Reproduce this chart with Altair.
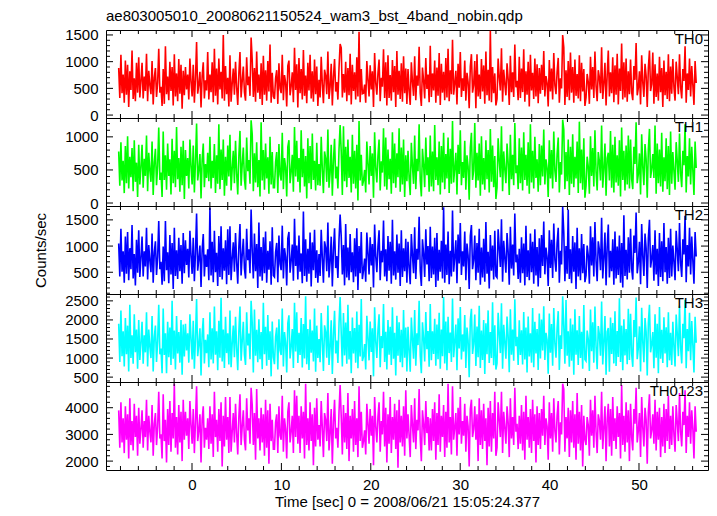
import altair as alt
import pandas as pd

# ---------------- data (hand-estimated) ----------------
T0 = -8.2
DT = 0.12447

th0 = [
    880, 320, 1130, 410, 760, 230, 1020, 380, 940, 150, 820, 470, 1210, 300, 690, 260, 980, 420, 1080, 330,
    640, 980, 310, 720, 450, 1150, 260, 830, 560, 390, 1010, 200, 700, 880, 340, 610, 1240, 420, 530, 170,
    860, 210, 1290, 390, 720, 280, 1000, 450, 900, 180, 1140, 350, 780, 260, 1050, 400, 940, 120, 830, 370,
    900, 480, 760, 290, 1060, 620, 350, 940, 230, 680, 1370, 400, 570, 810, 140, 730, 990, 310, 650, 460,
    1180, 290, 760, 430, 990, 240, 1240, 360, 870, 200, 1060, 480, 810, 310, 1500, 270, 920, 390, 700, 160,
    1120, 250, 590, 870, 380, 1000, 520, 190, 780, 1180, 330, 640, 910, 430, 270, 1080, 560, 720, 360, 1450,
    1030, 340, 880, 250, 1190, 420, 760, 300, 970, 190, 1110, 380, 840, 270, 1010, 440, 1320, 230, 790, 350,
    300, 690, 840, 210, 970, 500, 410, 1130, 280, 750, 610, 160, 920, 1020, 370, 540, 800, 240, 1260, 470,
    950, 140, 1070, 410, 860, 290, 1220, 360, 740, 220, 980, 460, 1130, 310, 820, 250, 1040, 390, 910, 170,
    660, 330, 1090, 580, 220, 850, 740, 390, 1190, 300, 530, 960, 180, 710, 1050, 440, 620, 290, 880, 1330,
    1260, 330, 770, 420, 1000, 260, 880, 370, 1150, 200, 940, 450, 800, 290, 1080, 350, 1560, 240, 860, 400,
    410, 570, 230, 1010, 670, 350, 930, 480, 820, 150, 1160, 600, 380, 780, 1040, 260, 700, 530, 1230, 320,
    990, 180, 1120, 320, 750, 270, 1030, 430, 920, 150, 1200, 380, 830, 300, 970, 250, 1100, 410, 870, 210,
    860, 450, 190, 990, 630, 360, 1100, 280, 740, 550, 1280, 410, 170, 890, 650, 310, 1070, 490, 760, 240,
    1300, 340, 780, 460, 1020, 230, 890, 360, 1160, 190, 960, 420, 810, 280, 1070, 330, 1240, 260, 840, 390,
    1410, 380, 590, 830, 200, 960, 510, 1180, 340, 690, 450, 1020, 270, 790, 620, 130, 910, 1140, 420, 560,
    1010, 130, 1140, 350, 760, 300, 1050, 440, 930, 210, 1190, 370, 850, 270, 1580, 240, 900, 410, 780, 180,
    300, 1060, 710, 460, 1250, 250, 850, 580, 370, 970, 680, 190, 1110, 430, 800, 340, 1320, 520, 640, 280,
    1090, 320, 870, 430, 1230, 250, 820, 380, 1000, 160, 1130, 460, 790, 300, 1060, 350, 950, 220, 880, 400,
    940, 470, 1200, 350, 730, 600, 160, 1030, 440, 870, 290, 1160, 560, 390, 810, 1070, 230, 690, 500, 1500,
    1270, 190, 840, 340, 1010, 280, 1170, 420, 900, 230, 1040, 360, 770, 310, 1120, 260, 980, 440, 860, 170,
    330, 770, 620, 210, 1090, 480, 900, 320, 1190, 540, 260, 840, 700, 410, 1270, 300, 590, 980, 180, 750,
    1210, 350, 800, 410, 1080, 240, 930, 380, 1150, 200, 870, 450, 1340, 290, 990, 330, 1060, 250, 820, 390,
    1040, 430, 280, 920, 660, 1350, 370, 510, 820, 200, 1120, 610, 340, 960, 730, 150, 880, 1210, 450, 580,
    1170, 210, 950, 340, 780, 270, 1090, 430, 880, 150, 1020, 370, 810, 300, 1140, 260, 910, 400, 1050, 520,
    270, 1000, 700, 390, 1140, 520, 310, 860, 640, 1290, 230, 780, 470, 1060, 350, 920, 560, 190, 1010, 600,
]

th1 = [
    780, 260, 920, 340, 640, 150, 860, 300, 1010, 220, 700, 390, 830, 180, 950, 320, 610, 90, 880, 280,
    540, 880, 230, 670, 410, 1020, 180, 760, 490, 320, 930, 120, 610, 820, 270, 560, 1140, 350, 460, 90,
    1080, 350, 720, 200, 900, 410, 660, 130, 970, 300, 790, 240, 1150, 360, 680, 170, 850, 270, 940, 60,
    800, 410, 680, 220, 960, 550, 280, 870, 160, 620, 1200, 340, 500, 740, 70, 650, 900, 240, 590, 380,
    760, 330, 1000, 220, 640, 380, 890, 150, 720, 290, 1190, 210, 810, 350, 960, 110, 700, 260, 870, 400,
    1030, 190, 520, 790, 300, 940, 450, 130, 710, 1090, 260, 580, 840, 360, 200, 990, 480, 650, 290, 1250,
    1040, 180, 750, 310, 920, 240, 650, 100, 1220, 340, 800, 200, 900, 370, 690, 140, 1000, 280, 770, 230,
    230, 620, 770, 150, 890, 430, 340, 1060, 210, 680, 540, 100, 850, 950, 300, 470, 730, 170, 1150, 400,
    940, 320, 680, 160, 1100, 390, 820, 250, 710, 70, 980, 300, 860, 210, 1050, 350, 640, 190, 910, 270,
    590, 260, 1000, 510, 150, 780, 670, 320, 1110, 230, 460, 880, 110, 640, 970, 370, 550, 220, 810, 1180,
    770, 120, 1160, 330, 850, 240, 960, 380, 700, 160, 1030, 290, 790, 220, 880, 40, 1240, 340, 730, 260,
    340, 500, 160, 930, 600, 280, 860, 410, 750, 80, 1070, 530, 310, 710, 960, 190, 630, 460, 1130, 250,
    990, 200, 810, 360, 670, 140, 1070, 300, 900, 230, 750, 390, 1130, 170, 840, 280, 960, 90, 720, 330,
    790, 380, 120, 910, 560, 290, 1020, 210, 670, 480, 1190, 340, 100, 820, 580, 240, 990, 420, 690, 170,
    1020, 250, 780, 180, 1180, 350, 690, 270, 930, 130, 860, 310, 1060, 210, 740, 370, 990, 150, 820, 290,
    1240, 310, 520, 760, 130, 880, 440, 1100, 270, 620, 380, 940, 200, 720, 550, 50, 840, 1060, 350, 490,
    1210, 230, 760, 340, 900, 110, 1010, 280, 680, 200, 950, 360, 800, 160, 1120, 320, 870, 240, 710, 60,
    230, 980, 640, 390, 1160, 180, 780, 510, 300, 900, 610, 120, 1030, 360, 730, 270, 1210, 450, 570, 210,
    980, 300, 840, 190, 1070, 350, 730, 260, 920, 140, 1190, 310, 790, 220, 1000, 380, 660, 170, 890, 270,
    870, 400, 1110, 280, 660, 530, 90, 950, 370, 800, 220, 1080, 490, 320, 740, 990, 160, 620, 430, 1260,
    1110, 210, 770, 330, 960, 120, 850, 290, 1040, 240, 700, 370, 930, 150, 1230, 300, 810, 200, 980, 80,
    260, 700, 550, 140, 1010, 410, 830, 250, 1100, 470, 190, 770, 630, 340, 1170, 230, 520, 900, 110, 680,
    760, 340, 1090, 230, 880, 160, 1000, 310, 720, 260, 950, 100, 1140, 350, 790, 190, 870, 280, 1020, 220,
    960, 360, 210, 850, 590, 1220, 300, 440, 750, 130, 1040, 540, 270, 890, 660, 80, 810, 1120, 380, 510,
    740, 380, 1170, 140, 900, 300, 810, 250, 1060, 170, 690, 330, 980, 210, 860, 120, 1080, 290, 770, 480,
    200, 920, 630, 320, 1050, 450, 240, 790, 570, 1190, 160, 710, 400, 980, 280, 850, 490, 120, 930, 530,
]

th2 = [
    1050, 420, 1330, 510, 900, 300, 1180, 470, 1270, 350, 960, 560, 1400, 380, 850, 250, 1120, 490, 1300, 410,
    780, 1180, 420, 900, 610, 1350, 360, 1020, 720, 500, 1240, 300, 880, 1090, 450, 790, 1480, 560, 700, 260,
    990, 330, 1480, 540, 880, 290, 1210, 460, 1060, 180, 1350, 430, 920, 370, 1160, 520, 1020, 280, 1250, 480,
    1110, 640, 950, 400, 1290, 820, 470, 1160, 330, 860, 1620, 530, 750, 1010, 220, 920, 1230, 420, 840, 600,
    940, 350, 1730, 440, 1080, 310, 1290, 500, 870, 240, 1190, 410, 1380, 360, 960, 530, 1110, 270, 1320, 450,
    1380, 350, 770, 1070, 510, 1250, 690, 280, 980, 1420, 440, 830, 1140, 570, 380, 1330, 730, 940, 480, 1700,
    900, 380, 1240, 520, 1040, 200, 1450, 420, 980, 340, 1170, 480, 1280, 300, 910, 550, 1090, 260, 1360, 440,
    410, 880, 1060, 310, 1200, 660, 540, 1390, 380, 960, 790, 250, 1150, 1270, 490, 720, 1030, 340, 1520, 620,
    1010, 360, 1200, 510, 860, 290, 1660, 430, 1130, 320, 950, 470, 1260, 230, 1070, 540, 1310, 390, 920, 300,
    850, 430, 1310, 780, 300, 1090, 970, 520, 1450, 400, 700, 1180, 230, 930, 1340, 580, 810, 390, 1120, 1600,
    1180, 460, 1020, 250, 1420, 400, 970, 350, 1230, 500, 880, 310, 1150, 420, 1340, 160, 1000, 480, 1270, 370,
    540, 760, 320, 1260, 870, 460, 1170, 630, 1040, 210, 1410, 800, 500, 990, 1300, 350, 910, 690, 1490, 420,
    940, 330, 1190, 530, 1080, 280, 1500, 440, 900, 360, 1220, 490, 1050, 240, 1300, 410, 960, 520, 1140, 300,
    1080, 590, 270, 1230, 830, 480, 1360, 370, 950, 740, 1560, 530, 240, 1130, 860, 410, 1320, 650, 1000, 330,
    1370, 390, 990, 460, 1160, 220, 1250, 340, 930, 510, 1100, 380, 1740, 300, 1030, 450, 1280, 270, 910, 420,
    1680, 510, 780, 1110, 290, 1220, 670, 1440, 450, 900, 610, 1280, 350, 1050, 820, 180, 1190, 1400, 560, 730,
    1200, 350, 1060, 490, 1330, 260, 970, 400, 1140, 320, 1460, 470, 890, 190, 1210, 530, 1010, 360, 1290, 430,
    400, 1320, 960, 600, 1510, 320, 1100, 770, 490, 1250, 890, 260, 1370, 570, 1030, 440, 1620, 690, 840, 370,
    950, 300, 1170, 480, 1050, 250, 1390, 410, 920, 350, 1240, 500, 1080, 280, 1320, 440, 980, 230, 1150, 390,
    1210, 620, 1470, 460, 970, 790, 240, 1300, 580, 1120, 390, 1430, 740, 510, 1060, 1350, 300, 910, 650, 1750,
    1260, 330, 1000, 470, 1700, 370, 940, 290, 1190, 510, 1070, 180, 1350, 420, 960, 350, 1230, 480, 1040, 310,
    440, 1010, 820, 280, 1380, 630, 1170, 420, 1460, 710, 330, 1090, 930, 540, 1540, 380, 780, 1260, 250, 980,
    1410, 400, 910, 520, 1130, 260, 1280, 380, 990, 450, 1200, 300, 1060, 210, 1590, 430, 930, 360, 1170, 490,
    1330, 570, 360, 1200, 870, 1640, 480, 690, 1080, 270, 1420, 800, 430, 1240, 960, 200, 1150, 1500, 590, 760,
    1020, 340, 1300, 460, 950, 240, 1250, 410, 1090, 330, 1440, 500, 980, 280, 1160, 390, 1330, 420, 1010, 700,
    350, 1290, 920, 520, 1440, 680, 410, 1130, 840, 1580, 310, 1020, 610, 1350, 460, 1180, 720, 280, 1270, 800,
]

th3 = [
    1900, 900, 2250, 1050, 1700, 780, 2050, 1100, 1850, 650, 2400, 1000, 1600, 850, 2150, 1150, 1750, 720, 2000, 950,
    1400, 1950, 850, 1600, 1150, 2200, 780, 1750, 1300, 1000, 2100, 650, 1550, 1850, 900, 1450, 2400, 1100, 1250, 600,
    2300, 1080, 1650, 600, 1950, 1020, 1800, 820, 2500, 980, 1720, 700, 2100, 1120, 1680, 880, 2000, 560, 1880, 1040,
    1900, 1200, 1650, 880, 2150, 1500, 960, 1980, 720, 1520, 2550, 1050, 1350, 1780, 540, 1620, 2050, 860, 1480, 1130,
    1620, 760, 2200, 960, 1780, 860, 2350, 1090, 1700, 680, 1980, 1010, 2580, 910, 1750, 740, 2080, 1130, 1650, 830,
    2250, 760, 1380, 1850, 1020, 2080, 1260, 680, 1700, 2350, 930, 1450, 1950, 1090, 820, 2200, 1330, 1640, 970, 2500,
    1920, 620, 2270, 1060, 1740, 890, 2020, 970, 1680, 710, 2450, 1100, 1820, 800, 2130, 950, 1700, 520, 1960, 1030,
    840, 1560, 1800, 700, 2020, 1210, 1080, 2300, 780, 1680, 1400, 620, 1920, 2120, 990, 1300, 1760, 740, 2450, 1170,
    2200, 870, 1660, 1080, 2050, 750, 1890, 990, 2620, 840, 1760, 690, 2010, 1140, 1720, 910, 2300, 640, 1850, 1000,
    1500, 890, 2180, 1420, 660, 1860, 1690, 1010, 2380, 820, 1280, 1990, 580, 1600, 2240, 1120, 1460, 870, 1900, 2600,
    1640, 780, 2180, 1070, 1930, 850, 2400, 960, 1710, 600, 2060, 1120, 1790, 880, 2220, 730, 1870, 1040, 2550, 920,
    1040, 1370, 700, 2110, 1540, 940, 1960, 1160, 1780, 520, 2330, 1440, 1000, 1730, 2150, 760, 1580, 1260, 2420, 900,
    1690, 700, 2000, 1090, 1820, 820, 2330, 980, 1660, 540, 2110, 1060, 1940, 890, 1740, 760, 2260, 1010, 1800, 650,
    1820, 1190, 640, 2060, 1500, 980, 2260, 800, 1650, 1340, 2500, 1060, 600, 1940, 1530, 910, 2210, 1230, 1710, 770,
    2420, 940, 1700, 1110, 2030, 800, 1880, 970, 2190, 720, 1750, 1050, 2600, 860, 1960, 680, 2080, 1130, 1670, 900,
    2560, 1020, 1420, 1880, 680, 2040, 1250, 2340, 960, 1620, 1170, 2130, 740, 1800, 1460, 500, 1990, 2290, 1110, 1380,
    2140, 790, 1830, 1020, 2370, 740, 1720, 950, 2000, 580, 1910, 1100, 2250, 870, 1680, 1000, 2460, 810, 1860, 700,
    860, 2190, 1640, 1130, 2440, 720, 1870, 1410, 980, 2090, 1570, 630, 2280, 1090, 1750, 930, 2540, 1310, 1560, 820,
    1990, 1080, 1730, 830, 2210, 960, 1800, 620, 2090, 1040, 1650, 880, 2310, 760, 1950, 1120, 1760, 690, 2170, 990,
    2010, 1200, 2360, 950, 1660, 1470, 590, 2170, 1140, 1890, 800, 2310, 1390, 1010, 1780, 2230, 690, 1600, 1240, 2620,
    1840, 850, 2520, 1060, 1700, 770, 2040, 930, 1880, 560, 2280, 1090, 1730, 820, 2100, 1000, 1690, 720, 2390, 960,
    920, 1720, 1490, 660, 2270, 1180, 1940, 880, 2350, 1300, 710, 1840, 1610, 1060, 2480, 830, 1440, 2100, 560, 1690,
    1790, 640, 2060, 1110, 1920, 860, 2230, 790, 1710, 1030, 2570, 900, 1850, 680, 2020, 1070, 1760, 840, 2290, 950,
    2160, 1110, 770, 2000, 1550, 2590, 970, 1270, 1830, 650, 2320, 1420, 890, 2050, 1680, 540, 1910, 2400, 1150, 1360,
    1680, 730, 2150, 1010, 1900, 600, 2340, 980, 1740, 870, 2070, 1120, 1810, 760, 2200, 940, 1660, 820, 1950, 1300,
    780, 2140, 1630, 1050, 2370, 1290, 860, 1900, 1520, 2530, 730, 1760, 1180, 2190, 940, 1970, 1340, 620, 2080, 1400,
]

th0123 = [
    3900, 2500, 4200, 2700, 3600, 2300, 4050, 2800, 3750, 2100, 4350, 2600, 3500, 2400, 4150, 2900, 3700, 2200, 4000, 2650,
    3200, 3900, 2500, 3500, 2900, 4300, 2400, 3700, 3100, 2700, 4100, 2200, 3400, 3800, 2600, 3300, 4600, 2850, 3000, 2100,
    4500, 2750, 3550, 1950, 3950, 2600, 4250, 2350, 3800, 2850, 4900, 2500, 3650, 2250, 4100, 2700, 3850, 2000, 4300, 2800,
    3850, 2950, 3600, 2450, 4250, 3350, 2650, 3950, 2300, 3450, 4800, 2750, 3150, 3750, 1950, 3550, 4050, 2500, 3250, 2800,
    3600, 2450, 4050, 2650, 3750, 2150, 4600, 2900, 3550, 2350, 3950, 2750, 4200, 1800, 3700, 2550, 4400, 2800, 3650, 2300,
    4400, 2350, 3100, 3800, 2700, 4150, 3050, 2250, 3650, 4500, 2600, 3300, 3900, 2800, 2400, 4350, 3150, 3600, 2650, 4750,
    4100, 2600, 3800, 2050, 4700, 2850, 3600, 2400, 4000, 2700, 3750, 2200, 4300, 2500, 3900, 1900, 4150, 2750, 3550, 2450,
    2450, 3450, 3750, 2300, 4050, 2950, 2800, 4450, 2350, 3600, 3200, 2100, 3850, 4200, 2700, 3100, 3700, 2300, 4650, 2900,
    4450, 2650, 3700, 2300, 4050, 2850, 3850, 2100, 4900, 2600, 3600, 2400, 4200, 2750, 3750, 1850, 4000, 2550, 4350, 2800,
    3350, 2550, 4250, 3250, 2150, 3800, 3550, 2750, 4550, 2400, 3050, 3950, 1900, 3450, 4300, 2850, 3250, 2500, 3850, 4850,
    3650, 2250, 4100, 2700, 3800, 2450, 4550, 2000, 3700, 2850, 3950, 2350, 4250, 2600, 3600, 2150, 4800, 2750, 3850, 2500,
    2750, 3150, 2250, 4150, 3400, 2650, 3950, 2950, 3700, 1850, 4400, 3300, 2700, 3650, 4200, 2350, 3500, 3000, 4600, 2550,
    4000, 1950, 3750, 2650, 4400, 2300, 3650, 2800, 4150, 2450, 3900, 1750, 4300, 2700, 3700, 2550, 4050, 2200, 4650, 2850,
    3750, 2950, 2150, 4100, 3350, 2700, 4350, 2450, 3550, 3150, 4700, 2850, 2000, 3900, 3400, 2600, 4250, 3050, 3650, 2400,
    3600, 2400, 3950, 2750, 4200, 2050, 3800, 2600, 4500, 2350, 3700, 2900, 4100, 2150, 3850, 2500, 4900, 2700, 3650, 2250,
    4800, 2800, 3250, 3800, 2200, 4000, 3000, 4400, 2650, 3500, 2950, 4150, 2350, 3700, 3300, 1800, 3950, 4300, 2900, 3200,
    4050, 2800, 3750, 2000, 4350, 2600, 3900, 2450, 4150, 2750, 3600, 1850, 4000, 2550, 4250, 2350, 3800, 2850, 4600, 2200,
    2500, 4200, 3550, 2900, 4600, 2300, 3850, 3250, 2650, 4050, 3450, 2150, 4350, 2850, 3650, 2600, 4750, 3100, 3400, 2450,
    3700, 2650, 4100, 2400, 3850, 2050, 4450, 2800, 3650, 2500, 3950, 2300, 4300, 2750, 3750, 1950, 4050, 2600, 3800, 2450,
    3950, 2950, 4450, 2600, 3600, 3300, 2050, 4200, 2850, 3800, 2350, 4350, 3150, 2700, 3700, 4250, 2250, 3450, 3000, 4900,
    4700, 2350, 3650, 2850, 4000, 2150, 3900, 2700, 4250, 2500, 3750, 2050, 4550, 2650, 3850, 2400, 4100, 1800, 3700, 2800,
    2600, 3650, 3350, 2200, 4300, 2950, 3900, 2500, 4450, 3100, 2300, 3750, 3500, 2800, 4600, 2450, 3250, 4050, 2000, 3550,
    4150, 2550, 3950, 2200, 4400, 2750, 3600, 2450, 4050, 2900, 3800, 2100, 4850, 2600, 3700, 2350, 4200, 2700, 3900, 2000,
    4150, 2900, 2400, 3950, 3400, 4750, 2700, 3150, 3800, 2150, 4400, 3250, 2550, 4000, 3550, 1900, 3850, 4500, 2850, 3150,
    3750, 2650, 4300, 2400, 3850, 2800, 4000, 2150, 3650, 2550, 4150, 2300, 3950, 2750, 4450, 2450, 3700, 2600, 4050, 3000,
    2350, 4100, 3450, 2750, 4550, 3100, 2550, 3850, 3350, 4650, 2300, 3700, 2900, 4200, 2650, 3900, 3200, 2100, 4050, 3100,
]

names = ["TH0", "TH1", "TH2", "TH3", "TH0123"]
series = [th0, th1, th2, th3, th0123]
colors = ["#ff0000", "#00ff00", "#0000ff", "#00ffff", "#ff00ff"]
y_domains = [[-55, 1593], [-45, 1285], [85, 1765], [372, 2680], [1667, 4963]]
y_labels = [[0, 500, 1000, 1500], [0, 500, 1000], [500, 1000, 1500],
            [500, 1000, 1500, 2000, 2500], [2000, 3000, 4000]]
y_major_step = [500, 500, 500, 500, 1000]
y_minor_step = [100, 100, 100, 100, 200]
x_domain = [-9.62, 57.72]
x_labels = [0, 10, 20, 30, 40, 50]
title_text = "ae803005010_20080621150524_wam3_bst_4band_nobin.qdp"
x_title = "Time [sec] 0 = 2008/06/21 15:05:24.377"
y_title = "Counts/sec"

# ---------------- layout ----------------
W, H = 602, 88
LMAJ, LMIN = 7, 4
FONT = "Liberation Sans"
FS = 15


def tick_values(lo, hi, step):
    start = int(-(-lo // step)) * step
    out = []
    v = start
    while v <= hi:
        out.append(v)
        v += step
    return out


def rules_y(vals, yk, side, length):
    df = pd.DataFrame({"v": vals})
    if side == "left":
        x1, x2 = 0, length
    else:
        x1, x2 = W, W - length
    return alt.Chart(df).mark_rule(color="black", strokeWidth=1).encode(
        y=alt.Y("v:Q", **yk), x=alt.value(x1), x2=alt.value(x2))


def rules_x(vals, xk, side, length):
    df = pd.DataFrame({"v": vals})
    if side == "bottom":
        y1, y2 = H, H - length
    else:
        y1, y2 = 0, length
    return alt.Chart(df).mark_rule(color="black", strokeWidth=1).encode(
        x=alt.X("v:Q", **xk), y=alt.value(y1), y2=alt.value(y2))


x_major = tick_values(x_domain[0], x_domain[1], 10)
x_minor = [v for v in tick_values(x_domain[0], x_domain[1], 2) if v % 10 != 0]

panels = []
for i in range(5):
    vals = series[i]
    times = [round(T0 + k * DT, 4) for k in range(len(vals))]
    df = pd.DataFrame({"t": times, "c": vals})
    xs = alt.Scale(domain=x_domain, nice=False, zero=False)
    ys = alt.Scale(domain=y_domains[i], nice=False, zero=False)

    if i == 4:
        xk = dict(scale=xs, title=x_title,
                  axis=alt.Axis(values=x_labels, format="d", ticks=False, tickSize=0, domain=False,
                                grid=False, labelPadding=7, titlePadding=2,
                                labelFlush=False, labelFontSize=FS, titleFontSize=FS,
                                titleFontWeight="normal", labelFont=FONT, titleFont=FONT,
                                labelColor="black", titleColor="black"))
    else:
        xk = dict(scale=xs, axis=None)

    yaxis = alt.Axis(values=y_labels[i], format="d", ticks=False, tickSize=0, domain=False,
                     grid=False, labelPadding=8, titlePadding=16, labelFontSize=FS,
                     titleFontSize=FS, titleFontWeight="normal", labelFont=FONT,
                     titleFont=FONT, labelColor="black", titleColor="black")
    if i == 2:
        yk = dict(scale=ys, title=y_title, axis=yaxis)
    else:
        yk = dict(scale=ys, title=None, axis=yaxis)

    line = alt.Chart(df).mark_line(color=colors[i], strokeWidth=1.6, clip=True).encode(
        x=alt.X("t:Q", **xk), y=alt.Y("c:Q", **yk))

    lo, hi = y_domains[i]
    ymaj = tick_values(lo, hi, y_major_step[i])
    ymin = [v for v in tick_values(lo, hi, y_minor_step[i]) if v % y_major_step[i] != 0]

    layers = [line,
              rules_y(ymaj, yk, "left", LMAJ), rules_y(ymin, yk, "left", LMIN),
              rules_y(ymaj, yk, "right", LMAJ), rules_y(ymin, yk, "right", LMIN),
              rules_x(x_major, xk, "bottom", LMAJ), rules_x(x_minor, xk, "bottom", LMIN),
              rules_x(x_major, xk, "top", LMAJ), rules_x(x_minor, xk, "top", LMIN)]

    lab = alt.Chart(pd.DataFrame({"n": [names[i]]})).mark_text(
        align="right", baseline="alphabetic", fontSize=FS, font=FONT, color="black"
    ).encode(text="n:N", x=alt.value(W - 5), y=alt.value(13.5))
    layers.append(lab)

    props = dict(width=W, height=H)
    if i == 0:
        props["title"] = alt.TitleParams(text=title_text, anchor="start", frame="group",
                                         fontSize=FS, fontWeight="normal", font=FONT,
                                         color="black", offset=4)
    panels.append(alt.layer(*layers).properties(**props))

chart = alt.vconcat(*panels, spacing=0, bounds="flush").properties(
    padding={"left": 25, "top": 0, "right": 0, "bottom": 0}
).configure(font=FONT).configure_view(stroke="black", strokeWidth=1)

chart.save("out.html", embed_options={"renderer": "svg", "actions": False})
